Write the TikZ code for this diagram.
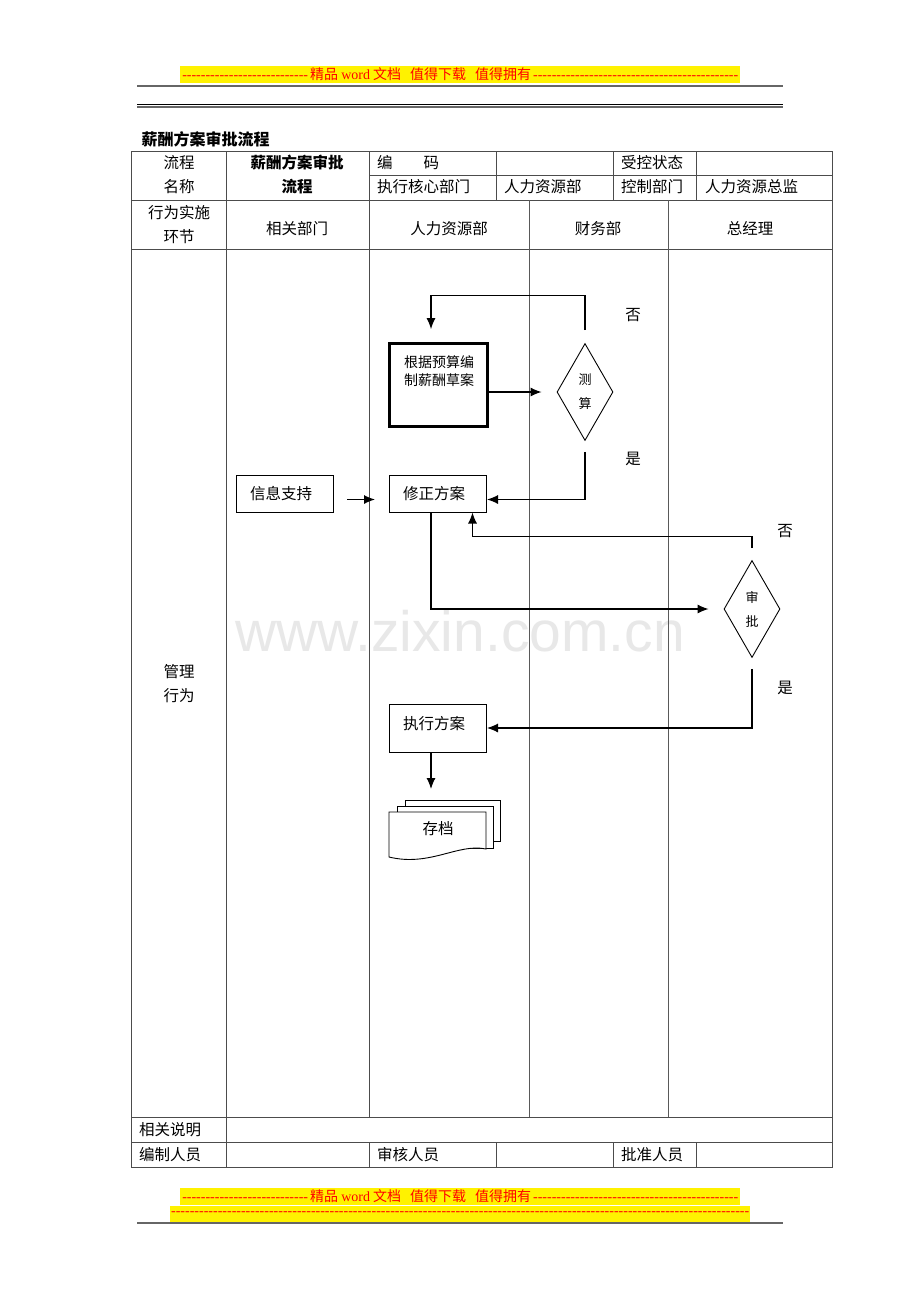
\documentclass[tikz,border=0pt]{standalone}
\usepackage{fontspec}
\setmainfont{Noto Sans CJK SC}
\newfontfamily\serif{Liberation Serif}
\newfontfamily\marca{Liberation Sans}
\usetikzlibrary{shapes.geometric,arrows.meta}
\newcommand\rayas[1]{\hbox to #1{\cleaders\hbox{\serif -}\hfill}}

\tikzset{
  caja/.style={draw, line width=1pt, minimum width=97pt, minimum height=37pt, inner sep=0pt, font=\fontsize{15.5}{16}\selectfont},
  rombo/.style={draw, diamond, line width=0.9pt, minimum width=56pt, minimum height=97pt, inner sep=0pt, align=center, font=\fontsize{13}{24}\selectfont},
  flecha/.style={line width=1.1pt, -{Latex[length=11pt,width=9pt]}},
  linea/.style={black!70, line width=1pt},
  carril/.style={black!65, line width=0.8pt},
  celda/.style={inner sep=0pt, font=\fontsize{15.5}{16}\selectfont},
  aviso/.style={fill=yellow, text=red, inner sep=0pt, minimum height=17pt, font=\fontsize{14}{14}\selectfont}
}

\begin{document}
\begin{tikzpicture}[x=1pt,y=-1pt]
  \useasboundingbox[fill=white] (0,0) rectangle (920,1302);

  % marca de agua
  \node[text=black!9, font=\marca\fontsize{57}{57}\selectfont, anchor=base] (marca) at (460,651) {www.zixin.com.cn};

  % cabecera
  \node[aviso, anchor=west] (aviso1) at (180,74.5) {\hbox to 560pt{\rayas{130pt}精品 {\serif word} 文档\hspace{9pt}值得下载\hspace{9pt}值得拥有\cleaders\hbox{\serif -}\hfill}};
  \draw[black!60, line width=2pt] (137,86) -- (783,86);
  \draw[black, line width=1.2pt] (137,104.5) -- (783,104.5);
  \draw[black!60, line width=1.5pt] (137,107) -- (783,107);
  \node[anchor=west, font=\bfseries\fontsize{16}{16}\selectfont] (titulo) at (138,139) {薪酬方案审批流程};

  % tabla
  \draw[linea] (131,151) rectangle (832,1167);
  \draw[linea] (369,175) -- (832,175);
  \draw[linea] (131,200) -- (832,200);
  \draw[linea] (131,249) -- (832,249);
  \draw[linea] (131,1117) -- (832,1117);
  \draw[linea] (131,1142) -- (832,1142);
  \draw[linea] (226,151) -- (226,1167);
  \draw[linea] (369,151) -- (369,1117) (369,1142) -- (369,1167);
  \foreach \x in {496,613,696} {
    \draw[linea] (\x,151) -- (\x,200) (\x,1142) -- (\x,1167);
  }
  \draw[carril] (529,200) -- (529,1117);
  \draw[carril] (668,200) -- (668,1117);

  % textos de la tabla
  \node[celda] (liucheng) at (179,163) {流程};
  \node[celda] (mingcheng) at (179,187) {名称};
  \node[celda, font=\bfseries\fontsize{15.5}{16}\selectfont] (nombre1) at (297,163) {薪酬方案审批};
  \node[celda, font=\bfseries\fontsize{15.5}{16}\selectfont] (nombre2) at (297,187) {流程};
  \node[celda, anchor=west] (bianma) at (377,163) {编\hspace{2em}码};
  \node[celda, anchor=west] (shoukong) at (621,163) {受控状态};
  \node[celda, anchor=west] (hexin) at (377,187) {执行核心部门};
  \node[celda, anchor=west] (renli1) at (504,187) {人力资源部};
  \node[celda, anchor=west] (kongzhi) at (621,187) {控制部门};
  \node[celda, anchor=west] (zongjian) at (705,187) {人力资源总监};
  \node[celda] (xingwei1) at (179,213) {行为实施};
  \node[celda] (huanjie) at (179,237) {环节};
  \node[celda] (xiangguan) at (297,229) {相关部门};
  \node[celda] (renli2) at (449,229) {人力资源部};
  \node[celda] (caiwu) at (598,229) {财务部};
  \node[celda] (zongjingli) at (750,229) {总经理};
  \node[celda] (guanli) at (179,672) {管理};
  \node[celda] (xingwei2) at (179,696) {行为};
  \node[celda, anchor=west] (shuoming) at (139,1130) {相关说明};
  \node[celda, anchor=west] (bianzhi) at (139,1155) {编制人员};
  \node[celda, anchor=west] (shenhe) at (377,1155) {审核人员};
  \node[celda, anchor=west] (pizhun) at (621,1155) {批准人员};

  % flujo
  \node[caja, line width=3.3pt, minimum width=97.5pt, minimum height=82.5pt] (borrador) at (438.5,385) {};
  \node[align=center, inner sep=0pt, font=\fontsize{14}{18}\selectfont] (borradortxt) at (439,371) {根据预算编\\制薪酬草案};
  \node[rombo] (cesuan) at (585,392) {测\\算};
  \node[caja] (xinxi) at (285,493.5) {};
  \node[celda] (xinxitxt) at (281,493.5) {信息支持};
  \node[caja] (xiuzheng) at (438,493.5) {};
  \node[celda] (xiuzhengtxt) at (434,493.5) {修正方案};
  \node[rombo] (shenpi) at (752,609) {审\\批};
  \node[caja, minimum height=48pt] (zhixing) at (438,728) {};
  \node[celda] (zhixingtxt) at (434,724) {执行方案};
  \node[celda] (no1) at (633,315) {否};
  \node[celda] (si1) at (633,459) {是};
  \node[celda] (no2) at (785,531) {否};
  \node[celda] (si2) at (785,688) {是};

  % flechas
  \draw[flecha] (borrador.east |- cesuan.west) -- ([xshift=-15pt]cesuan.west);
  \draw[flecha] ([yshift=13pt]cesuan.north) -- ++(0,-35) -| ([xshift=-7.5pt,yshift=13pt]borrador.north);
  \draw[flecha] ([yshift=-11pt]cesuan.south) |- ([yshift=-6pt]xiuzheng.east);
  \draw[flecha] ([xshift=13pt,yshift=-6pt]xinxi.east) -- ([xshift=-14pt,yshift=-6pt]xiuzheng.west);
  \draw[flecha] ([xshift=-7pt]xiuzheng.south) |- ([xshift=-15pt]shenpi.west);
  \draw[flecha] ([yshift=12pt]shenpi.north) -- ++(0,-12) -| ([xshift=34.5pt]xiuzheng.south);
  \draw[flecha] ([yshift=-11pt]shenpi.south) |- (zhixing.east);
  \coordinate (fin) at (431,789);
  \draw[flecha] ([xshift=-7pt]zhixing.south) -- (fin);

  % archivo
  \draw[fill=white, line width=0.9pt] (405,800) rectangle (500,841);
  \draw[fill=white, line width=0.9pt] (397,806) rectangle (493,848);
  \draw[fill=white, line width=0.9pt] (389,812) -- (486,812) -- (486,849) .. controls (458,843) and (430,867) .. (389,857) -- cycle;
  \node[celda] (cundang) at (438,829) {存档};

  % pie
  \node[aviso, anchor=west] (aviso2) at (180,1196.5) {\hbox to 560pt{\rayas{130pt}精品 {\serif word} 文档\hspace{9pt}值得下载\hspace{9pt}值得拥有\cleaders\hbox{\serif -}\hfill}};
  \node[aviso, anchor=west, minimum height=16pt] (aviso3) at (170,1214) {\rayas{580pt}};
  \draw[black!60, line width=2pt] (137,1223) -- (783,1223);
\end{tikzpicture}
\end{document}
